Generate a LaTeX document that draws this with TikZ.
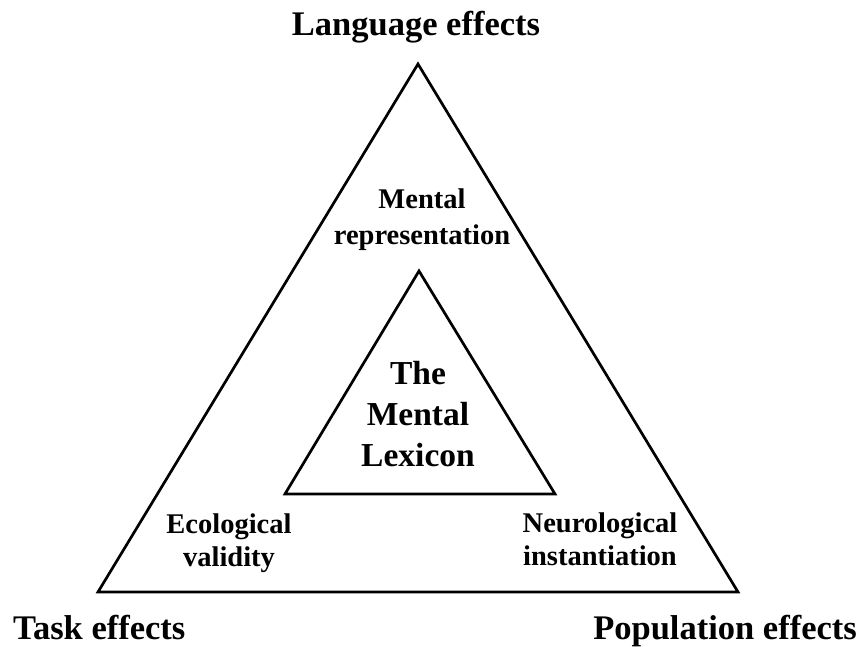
\documentclass[tikz,border=0pt]{standalone}
\usepackage{fontspec}
\setmainfont{Liberation Serif}
\begin{document}
\begin{tikzpicture}[x=1pt,y=-1pt,
  edge/.style={line width=2.7pt, line join=miter},
  corner/.style={font=\bfseries\fontsize{34.5}{40}\selectfont, inner sep=0pt, anchor=base},
  facet/.style={font=\bfseries\fontsize{28.5}{33}\selectfont, inner sep=0pt, anchor=base, align=center},
  core/.style={font=\bfseries\fontsize{33.5}{41}\selectfont, inner sep=0pt, anchor=base, align=center}]
  \useasboundingbox (0,0) rectangle (865,647);

  % outer triangle
  \coordinate (top) at (418,64);
  \coordinate (left) at (98,592);
  \coordinate (right) at (738,592);
  \draw[edge] (top) -- (left) -- (right) -- cycle;

  % inner triangle
  \coordinate (itop) at (419,271);
  \coordinate (ileft) at (285,494);
  \coordinate (iright) at (555,494);
  \draw[edge] (itop) -- (ileft) -- (iright) -- cycle;

  % corner labels
  \node[corner] (lang) at (416,36) {Language effects};
  \node[corner, anchor=base west] (task) at (13,639) {Task effects};
  \node[corner, anchor=base east] (pop) at (857,639) {Population effects};

  % facet labels (anchored at the baseline of their last line)
  \node[facet, font=\bfseries\fontsize{28.5}{36}\selectfont] (rep) at (422,245) {Mental\\representation};
  \node[facet] (eco) at (229,566) {Ecological\\validity};
  \node[facet] (neuro) at (600,565) {Neurological\\instantiation};

  % centre label
  \node[core] (lex) at (418,466) {The\\Mental\\Lexicon};
\end{tikzpicture}
\end{document}
